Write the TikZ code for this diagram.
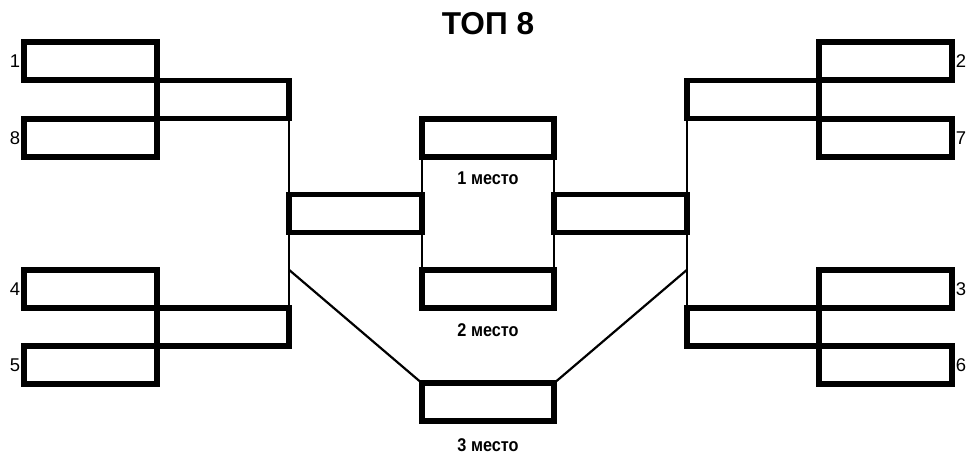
\documentclass[tikz,border=0pt]{standalone}
\usepackage{fontspec}
\setmainfont{Liberation Sans}
\newfontfamily\narrowfont[FakeStretch=0.88]{Liberation Sans}
\usetikzlibrary{positioning}
\newcommand{\slotwidth}{2.65cm}
\newcommand{\slotheight}{0.76cm}
\newcommand{\slotline}{3.2pt}
\newcommand{\linkline}{1.25pt}
\newcommand{\seedsize}{\fontsize{10.5}{12}\selectfont}
\newcommand{\placesize}{\fontsize{10.5}{12}\selectfont}

\tikzset{
  slot/.style={draw=black, line width=\slotline, minimum width=\slotwidth, minimum height=\slotheight, inner sep=0pt, outer sep=0pt},
  link/.style={draw=black, line width=\linkline},
  seed/.style={font=\seedsize, inner sep=2.2pt},
  place/.style={font=\narrowfont\bfseries\placesize, inner sep=0pt}
}

\begin{document}
\begin{tikzpicture}[x=0.02cm, y=-0.02cm]
\useasboundingbox (0,0) rectangle (971,459);

% Title
\node (title) [font=\bfseries\fontsize{18}{21}\selectfont] at (488,24) {ТОП 8};

% Left half of the bracket
\node (s1) [slot] at (90.5,61) {};
\node (s8) [slot] at (90.5,138) {};
\node (s4) [slot] at (90.5,289) {};
\node (s5) [slot] at (90.5,365) {};
\node (qL1) [slot] at (223,99.5) {};
\node (qL2) [slot] at (223,327) {};
\node (sfL) [slot] at (355.5,213.5) {};

% Final and third place
\node (fin1) [slot] at (488,138) {};
\node (fin2) [slot] at (488,289) {};
\node (bronze) [slot] at (488,402) {};

% Right half of the bracket
\node (sfR) [slot] at (620.5,213.5) {};
\node (qR1) [slot] at (753,99.5) {};
\node (qR2) [slot] at (753,327) {};
\node (s2) [slot] at (885.5,61) {};
\node (s7) [slot] at (885.5,138) {};
\node (s3) [slot] at (885.5,289) {};
\node (s6) [slot] at (885.5,365) {};

% Seeds
\node (n1) [seed, left=0pt of s1] {1};
\node (n8) [seed, left=0pt of s8] {8};
\node (n4) [seed, left=0pt of s4] {4};
\node (n5) [seed, left=0pt of s5] {5};
\node (n2) [seed, right=0pt of s2] {2};
\node (n7) [seed, right=0pt of s7] {7};
\node (n3) [seed, right=0pt of s3] {3};
\node (n6) [seed, right=0pt of s6] {6};

% Links
\draw[link] (qL1.south east) -- (qL2.north east);
\draw[link] (qR1.south west) -- (qR2.north west);
\draw[link] (fin1.south west) -- (fin2.north west);
\draw[link] (fin1.south east) -- (fin2.north east);
\coordinate (dL) at (qL1.east |- fin2.north);
\coordinate (dR) at (qR1.west |- fin2.north);
\draw[link] (dL) -- (bronze.north west);
\draw[link] (dR) -- (bronze.north east);

% Places
\node (p1) [place, below=0.28cm of fin1] {1 место};
\node (p2) [place, below=0.3cm of fin2] {2 место};
\node (p3) [place, below=0.34cm of bronze] {3 место};

\end{tikzpicture}
\end{document}
